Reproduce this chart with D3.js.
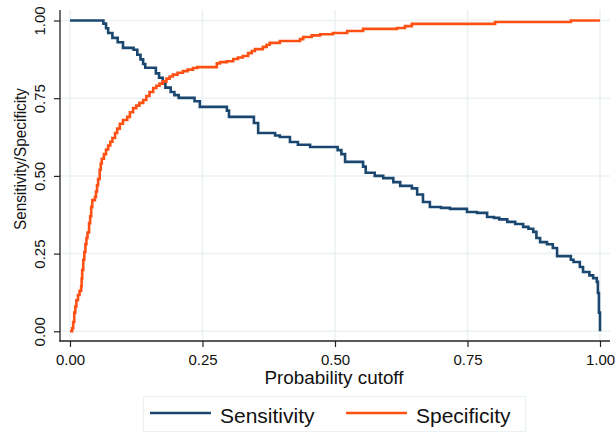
<!DOCTYPE html>
<html><head><meta charset="utf-8">
<script src="https://cdn.jsdelivr.net/npm/d3@7"></script>
<style>body{margin:0;background:#fff}svg{display:block;font-family:"Liberation Sans",Arial,sans-serif}</style>
</head><body><svg id="c" width="615" height="433"></svg>
<script>
const ticks = [0, 0.25, 0.5, 0.75, 1];
const seriesNames = ["Sensitivity", "Specificity"];
const xTitle = "Probability cutoff";
const yTitle = "Sensitivity/Specificity";

const sensCutoff = [0,0.063,0.068,0.072,0.08,0.09,0.10,0.12,0.127,0.133,0.138,0.142,0.162,0.168,0.175,0.18,0.19,0.197,0.205,0.235,0.245,0.296,0.300,0.347,0.355,0.387,0.396,0.415,0.43,0.453,0.505,0.512,0.519,0.553,0.558,0.575,0.591,0.61,0.623,0.645,0.655,0.666,0.679,0.70,0.717,0.749,0.768,0.787,0.80,0.81,0.825,0.84,0.855,0.865,0.874,0.88,0.887,0.90,0.911,0.919,0.945,0.95,0.962,0.968,0.98,0.987,0.994,0.996,0.998,1.0];
const sensValue  = [1,0.99,0.975,0.96,0.944,0.93,0.912,0.906,0.89,0.875,0.86,0.848,0.83,0.816,0.80,0.784,0.77,0.76,0.751,0.74,0.722,0.71,0.69,0.67,0.638,0.63,0.625,0.609,0.60,0.593,0.583,0.57,0.545,0.53,0.51,0.50,0.493,0.48,0.468,0.46,0.44,0.416,0.40,0.397,0.394,0.384,0.381,0.368,0.365,0.36,0.352,0.345,0.336,0.33,0.32,0.30,0.287,0.28,0.268,0.242,0.23,0.223,0.207,0.191,0.18,0.171,0.159,0.123,0.06,0];

const specCutoff = [0,0.004,0.006,0.008,0.010,0.012,0.015,0.018,0.021,0.022,0.023,0.025,0.027,0.029,0.031,0.033,0.036,0.038,0.040,0.042,0.047,0.049,0.051,0.053,0.056,0.058,0.060,0.064,0.068,0.072,0.076,0.080,0.085,0.089,0.094,0.100,0.108,0.113,0.119,0.125,0.131,0.138,0.144,0.150,0.157,0.163,0.169,0.175,0.182,0.188,0.194,0.203,0.213,0.222,0.232,0.240,0.277,0.283,0.296,0.308,0.317,0.326,0.336,0.343,0.349,0.364,0.371,0.377,0.396,0.434,0.44,0.456,0.472,0.496,0.523,0.553,0.617,0.632,0.645,0.802,0.945,1.0];
const specValue  = [0,0.01,0.03,0.06,0.08,0.10,0.117,0.13,0.145,0.17,0.197,0.23,0.255,0.28,0.30,0.318,0.348,0.37,0.40,0.422,0.432,0.45,0.47,0.49,0.52,0.54,0.555,0.57,0.585,0.598,0.61,0.622,0.638,0.652,0.668,0.68,0.69,0.705,0.718,0.726,0.735,0.744,0.757,0.77,0.783,0.79,0.797,0.804,0.813,0.82,0.826,0.832,0.837,0.842,0.847,0.85,0.862,0.866,0.869,0.876,0.881,0.886,0.895,0.902,0.908,0.915,0.922,0.928,0.934,0.94,0.947,0.952,0.956,0.96,0.966,0.973,0.976,0.982,0.989,0.995,1.0,1.0];

const colors = ["#1a476f", "#ff5014"];
const gridColor = "#eaf2f3";

const svg = d3.select("#c");
const x = d3.scaleLinear().domain([0,1]).range([70,600]);
const y = d3.scaleLinear().domain([0,1]).range([331.3,20.5]);
const axX = 60, axY = 341, plotRight = 610, plotTop = 10;

// grid
svg.append("g").selectAll("line.h").data(ticks).join("line")
  .attr("x1", axX).attr("x2", plotRight).attr("y1", d=>y(d)).attr("y2", d=>y(d))
  .attr("stroke", gridColor).attr("stroke-width", 1.5);
svg.append("g").selectAll("line.v").data(ticks).join("line")
  .attr("y1", plotTop).attr("y2", axY).attr("x1", d=>x(d)).attr("x2", d=>x(d))
  .attr("stroke", gridColor).attr("stroke-width", 1.5);

// axes
const yAxis = svg.append("g").attr("transform", `translate(${axX},0)`)
  .call(d3.axisLeft(y).tickValues(ticks).tickFormat(d3.format(".2f")).tickSize(6).tickSizeOuter(0));
yAxis.select(".domain").remove();
yAxis.selectAll(".tick line").attr("stroke", "#222").attr("stroke-width", 1.2);
yAxis.selectAll(".tick text").attr("transform","rotate(-90)").attr("x",0).attr("y",-15).attr("dy",0)
  .attr("text-anchor","middle").attr("font-size",15).attr("fill","#111");
const xAxis = svg.append("g").attr("transform", `translate(0,${axY})`)
  .call(d3.axisBottom(x).tickValues(ticks).tickFormat(d3.format(".2f")).tickSize(6).tickSizeOuter(0));
xAxis.select(".domain").remove();
xAxis.selectAll(".tick line").attr("stroke", "#222").attr("stroke-width", 1.2);
xAxis.selectAll(".tick text").attr("y",24).attr("dy",0).attr("font-size",15).attr("fill","#111");
svg.append("line").attr("x1",axX).attr("x2",axX).attr("y1",plotTop).attr("y2",axY+0.6).attr("stroke","#222").attr("stroke-width",1.3);
svg.append("line").attr("x1",axX-0.6).attr("x2",plotRight).attr("y1",axY).attr("y2",axY).attr("stroke","#222").attr("stroke-width",1.3);

// titles
svg.append("text").attr("x",334).attr("y",384).attr("text-anchor","middle")
  .attr("font-size",17.5).attr("textLength",139).attr("lengthAdjust","spacingAndGlyphs").attr("fill","#111").text(xTitle);
svg.append("text").attr("transform","translate(26,159) rotate(-90)").attr("text-anchor","middle")
  .attr("font-size",16).attr("textLength",142).attr("lengthAdjust","spacingAndGlyphs").attr("fill","#111").text(yTitle);

// lines
const line = d3.line().x(d=>x(d[0])).y(d=>y(d[1])).curve(d3.curveStepAfter);
const series = [d3.zip(sensCutoff, sensValue), d3.zip(specCutoff, specValue)];
svg.append("g").selectAll("path").data(series).join("path")
  .attr("d", line).attr("fill","none").attr("stroke",(d,i)=>colors[i]).attr("stroke-width",2.6)
  .attr("stroke-linejoin","miter");

// legend
const lg = svg.append("g");
lg.append("rect").attr("x",143.5).attr("y",396.5).attr("width",382).attr("height",35)
  .attr("fill","#fff").attr("stroke",gridColor).attr("stroke-width",1.2);
const legX = [150, 346];
seriesNames.forEach((n,i)=>{
  lg.append("line").attr("x1",legX[i]).attr("x2",legX[i]+61).attr("y1",413).attr("y2",413)
    .attr("stroke",colors[i]).attr("stroke-width",2.6);
  lg.append("text").attr("x",legX[i]+70).attr("y",423).attr("font-size",21).attr("fill","#111").text(n);
});
</script></body></html>
